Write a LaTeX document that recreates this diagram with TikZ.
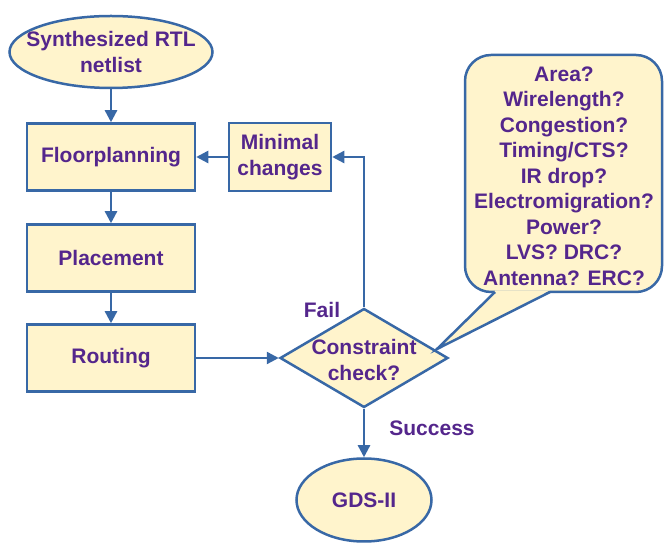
\documentclass[tikz,border=0pt]{standalone}
\usepackage{fontspec}
\setmainfont{Liberation Sans}
\usetikzlibrary{shapes.geometric,arrows.meta}
\definecolor{boxfill}{RGB}{255,244,204}
\definecolor{boxline}{RGB}{56,104,166}
\definecolor{txtpurple}{RGB}{84,38,140}
\begin{document}
\begin{tikzpicture}[x=1pt,y=1pt,
  txt/.style={font=\fontsize{21}{25.5}\selectfont\bfseries, text=txtpurple, align=center, inner sep=0pt},
  stepbox/.style={draw=boxline, line width=2.5pt, fill=boxfill, minimum width=168pt, minimum height=67pt, txt},
  oval/.style={ellipse, draw=boxline, line width=2.5pt, fill=boxfill, inner sep=0pt},
  decision/.style={diamond, draw=boxline, line width=2.5pt, fill=boxfill, inner sep=0pt, minimum width=168pt, minimum height=99pt},
  flow/.style={draw=boxline, line width=2.4pt, -{Triangle[length=12pt,width=12pt]}}]
\useasboundingbox (0,0) rectangle (664,543);

% process nodes
\node[oval, minimum width=203pt, minimum height=72pt] (start) at (111,491) {};
\node[txt] (starttxt) at (start.center) {Synthesized RTL\\netlist};
\node[stepbox] (floor) at (111,386) {Floorplanning};
\node[stepbox] (place) at (111,285) {Placement};
\node[stepbox] (route) at (111,185) {Routing};
\node[stepbox, minimum width=102pt, minimum height=68pt] (minimal) at (280,386) {Minimal\\changes};
\node[decision] (chk) at (364,185) {};
\node[txt] (chktxt) at (364,183) {Constraint\\check?};
\node[oval, minimum width=135pt, minimum height=83pt] (gds) at (364,43) {};
\node[txt] (gdstxt) at (gds.center) {GDS-II};

% connectors
\draw[flow] (start) -- (floor);
\draw[flow] (floor) -- (place);
\draw[flow] (place) -- (route);
\draw[flow] (route.east) -- (chk.west);
\draw[flow] (chk.north) |- (minimal.east);
\draw[flow] (minimal.west) -- (floor.east);
\draw[flow] (chk.south) -- (gds.north);

\node[txt] (fail) at (322,233) {Fail};
\node[txt] (success) at (432,115) {Success};

% callout with the list of checks
\draw[boxline, line width=2.5pt, fill=boxfill, rounded corners=26pt]
  (465,251) rectangle (662,488);
\fill[boxfill] (495,252.5) -- (437,194) -- (550,252.5) -- cycle;
\draw[boxline, line width=2.5pt, line join=miter] (495,251) -- (437,194) -- (550,251);
\node[txt] (checks) at (564,367) {Area?\\Wirelength?\\Congestion?\\Timing/CTS?\\IR drop?\\Electromigration?\\Power?\\LVS? DRC?\\Antenna? ERC?};
\end{tikzpicture}
\end{document}
